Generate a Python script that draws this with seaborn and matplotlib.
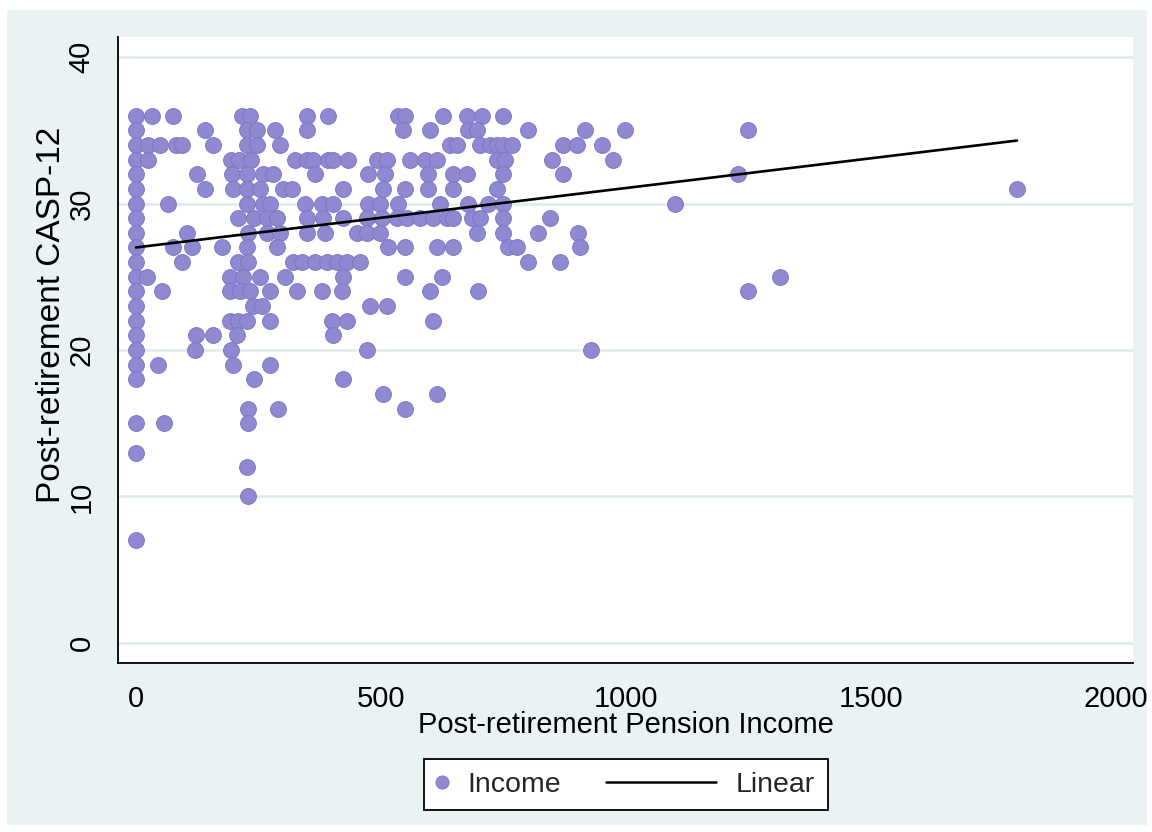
import numpy as np
import pandas as pd
import seaborn as sns
import matplotlib
matplotlib.use("Agg")
import matplotlib.pyplot as plt
from matplotlib.lines import Line2D
from matplotlib.patches import Rectangle
from matplotlib.legend_handler import HandlerBase

# Post-retirement pension income of respondents, grouped by their CASP-12 score
income_36 = [0, 32, 75, 216, 233, 349, 392, 535, 549, 627, 676, 706, 749]
income_35 = [0, 141, 226, 246, 284, 349, 545, 600, 678, 696, 800, 916, 998, 1249]
income_34 = [0, 25, 49, 82, 94, 158, 226, 246, 294, 641, 655, 702, 722, 737, 749, 767, 871, 900, 951]
income_33 = [0, 25, 194, 211, 235, 324, 348, 361, 392, 402, 433, 492, 512, 559, 590, 614, 737, 753, 849, 973]
income_32 = [0, 124, 195, 226, 260, 280, 365, 473, 508, 596, 647, 676, 749, 871, 1229]
income_31 = [0, 141, 198, 226, 253, 300, 318, 423, 504, 549, 596, 647, 737, 1798]
income_30 = [0, 65, 226, 260, 273, 345, 380, 402, 473, 498, 535, 620, 678, 718, 749, 1100]
income_29 = [0, 209, 240, 267, 288, 349, 382, 423, 471, 502, 533, 553, 580, 606, 635, 647, 686, 702, 749, 845]
income_28 = [0, 104, 229, 267, 294, 349, 386, 451, 471, 498, 696, 749, 820, 902]
income_27 = [0, 75, 114, 176, 226, 288, 514, 549, 614, 647, 759, 778, 906]
income_26 = [0, 94, 209, 229, 320, 339, 365, 390, 410, 431, 457, 800, 865]
income_25 = [0, 22, 192, 218, 253, 304, 423, 549, 624, 1314]
income_24 = [0, 53, 192, 212, 233, 273, 329, 380, 420, 600, 698, 1249]
income_23 = [0, 239, 257, 478, 512]
income_22 = [0, 192, 208, 227, 273, 400, 431, 606]
income_21 = [0, 122, 157, 206, 402]
income_20 = [0, 120, 194, 471, 929]
income_19 = [0, 45, 198, 273]
income_18 = [0, 241, 423]
income_17 = [504, 614]
income_16 = [229, 290, 549]
income_15 = [0, 57, 229]
income_13 = [0]
income_12 = [227]
income_10 = [229]
income_7 = [0]

casp_scores = [36, 35, 34, 33, 32, 31, 30, 29, 28, 27, 26, 25, 24, 23, 22, 21, 20,
               19, 18, 17, 16, 15, 13, 12, 10, 7]
income_groups = [income_36, income_35, income_34, income_33, income_32, income_31,
                 income_30, income_29, income_28, income_27, income_26, income_25,
                 income_24, income_23, income_22, income_21, income_20, income_19,
                 income_18, income_17, income_16, income_15, income_13, income_12,
                 income_10, income_7]

# Linear fit across the observed income range
fit_income = [0, 1798]
fit_casp = [27.0, 34.3]

x_ticks = [0, 500, 1000, 1500, 2000]
y_ticks = [0, 10, 20, 30, 40]

rows = [(inc, score) for score, group in zip(casp_scores, income_groups) for inc in group]
df = pd.DataFrame(rows, columns=["income", "casp"])

sns.set_theme(style="white")
plt.rcParams["font.family"] = ["Liberation Sans", "DejaVu Sans"]

DOT = "#8E89D0"
DOT_EDGE = "#7E78C6"
PANEL = "#EAF2F3"
GRID = "#E0EAEC"

W, H = 1152, 832
fig = plt.figure(figsize=(W / 100, H / 100), dpi=100, facecolor="white")
fig.patches.append(Rectangle((7 / W, 7 / H), 1140 / W, 815 / H,
                             transform=fig.transFigure, facecolor=PANEL,
                             edgecolor="none", zorder=-10))

ax = fig.add_axes([118 / W, 1 - 663 / H, 1015 / W, 626 / H])
ax.set_facecolor("white")

sns.scatterplot(data=df, x="income", y="casp", s=130, color=DOT,
                edgecolor=DOT_EDGE, linewidth=0.7, ax=ax, legend=False, zorder=2)
sns.lineplot(x=fit_income, y=fit_casp, color="black", linewidth=1.9, ax=ax,
             zorder=3, legend=False)

ax.set_xlim(-36.7, 2034.7)
ax.set_ylim(-1.37, 41.37)
ax.set_xticks(x_ticks, labels=[str(v) for v in x_ticks])
ax.set_yticks(y_ticks, labels=[str(v) for v in y_ticks], rotation=90, va="center")

ax.yaxis.grid(True, color=GRID, linewidth=1.8)
ax.xaxis.grid(False)
ax.set_axisbelow(True)

for side in ("top", "right"):
    ax.spines[side].set_visible(False)
for side in ("left", "bottom"):
    ax.spines[side].set_color("black")
    ax.spines[side].set_linewidth(1.3)

ax.tick_params(axis="both", direction="out", length=8, width=1.2, color="black",
               labelsize=21, labelcolor="black")
ax.tick_params(axis="x", pad=8)
ax.tick_params(axis="y", pad=8)

ax.set_xlabel("Post-retirement Pension Income", fontsize=21, color="black")
ax.xaxis.set_label_coords(0.5, -0.077)
ax.set_ylabel("Post-retirement CASP-12", fontsize=24, color="black")
ax.yaxis.label.set_va("center")
ax.yaxis.set_label_coords(-0.066, 0.556)


class TrailingLine(HandlerBase):
    """Legend line that ends at the handle box and reaches back a fixed span."""

    def __init__(self, span):
        super().__init__()
        self.span = span

    def create_artists(self, legend, orig_handle, xdescent, ydescent,
                       width, height, fontsize, trans):
        y = (height - ydescent) / 2.0
        x1 = width - xdescent
        line = Line2D([x1 - self.span * fontsize, x1], [y, y])
        self.update_prop(line, orig_handle, legend)
        line.set_transform(trans)
        return [line]


dot_handle = Line2D([], [], linestyle="none", marker="o", markersize=9.5,
                    markerfacecolor=DOT, markeredgecolor=DOT_EDGE,
                    markeredgewidth=0.6, label="Income")
line_handle = Line2D([], [], color="black", linewidth=1.8, label="Linear")

leg = fig.legend(handles=[dot_handle, line_handle],
                 handler_map={line_handle: TrailingLine(3.86)},
                 loc="center", bbox_to_anchor=(626 / W, 1 - 784.5 / H), ncol=2,
                 fontsize=20.5, frameon=True, fancybox=False, shadow=False,
                 edgecolor="black", facecolor="white", framealpha=1,
                 handlelength=0.35, handletextpad=0.70, columnspacing=5.09,
                 borderpad=0.45, borderaxespad=0)
leg.get_frame().set_linewidth(1.3)

fig.savefig("out.png", dpi=100, facecolor=fig.get_facecolor())
